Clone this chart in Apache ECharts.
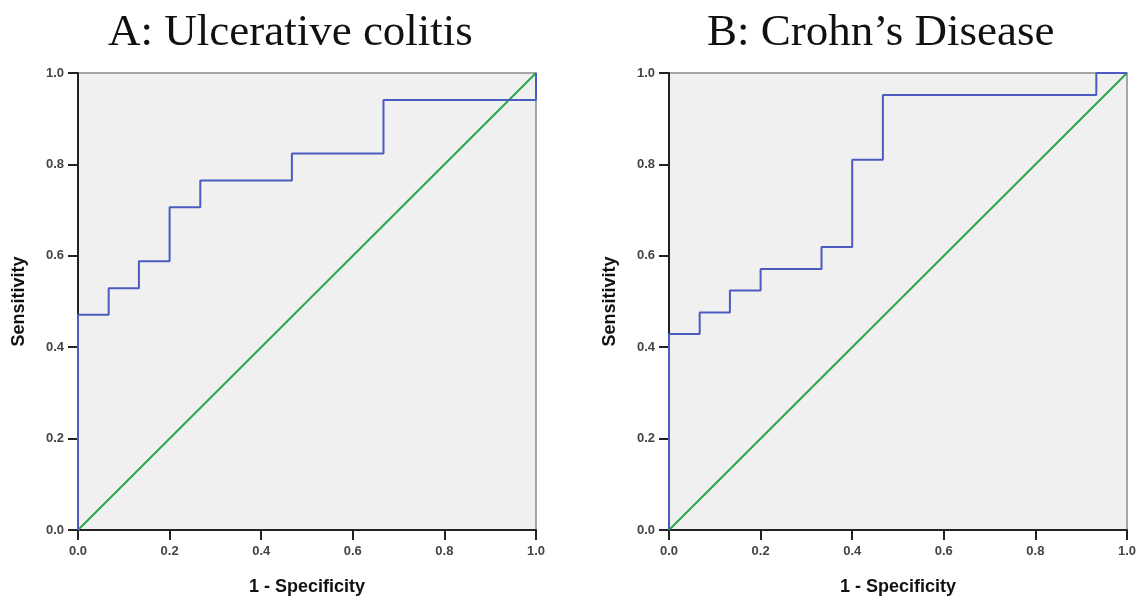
<!DOCTYPE html>
<html>
<head>
  <meta charset="utf-8" />
  <title>ROC curves</title>
  <script src="https://cdn.jsdelivr.net/npm/echarts@6/dist/echarts.min.js"></script>
</head>
<body style="margin:0;background:#fff;">
<div id="main" style="width:1142px;height:601px;"></div>
<script type="text/javascript">
  // ROC vertices (1 - specificity, sensitivity)
  var ucFpr = [0, 0, 0.067, 0.067, 0.133, 0.133, 0.2, 0.2, 0.267, 0.267, 0.467, 0.467, 0.667, 0.667, 1, 1];
  var ucTpr = [0, 0.471, 0.471, 0.529, 0.529, 0.588, 0.588, 0.706, 0.706, 0.765, 0.765, 0.824, 0.824, 0.941, 0.941, 1];
  var cdFpr = [0, 0, 0.067, 0.067, 0.133, 0.133, 0.2, 0.2, 0.333, 0.333, 0.4, 0.4, 0.467, 0.467, 0.933, 0.933, 1];
  var cdTpr = [0, 0.429, 0.429, 0.476, 0.476, 0.524, 0.524, 0.571, 0.571, 0.619, 0.619, 0.81, 0.81, 0.952, 0.952, 1, 1];
  var refLine = [[0, 0], [1, 1]];
  var panelTitles = ['A: Ulcerative colitis', 'B: Crohn\u2019s Disease'];
  var xName = '1 - Specificity';
  var yName = 'Sensitivity';

  function pairs(xs, ys) {
    return xs.map(function (x, i) { return [x, ys[i]]; });
  }

  var myChart = echarts.init(document.getElementById('main'));

  function xAxis(idx) {
    return {
      type: 'value', gridIndex: idx, min: 0, max: 1, interval: 0.2,
      name: xName, nameLocation: 'middle', nameGap: 48,
      nameTextStyle: { fontFamily: 'Liberation Sans', fontWeight: 'bold', fontSize: 18, color: '#111' },
      axisLine: { lineStyle: { color: '#222', width: 2 } },
      axisTick: { inside: false, length: 10, lineStyle: { color: '#222', width: 2 } },
      axisLabel: { fontFamily: 'Liberation Sans', fontWeight: 'bold', fontSize: 13, color: '#444', margin: 15,
        formatter: function (v) { return v.toFixed(1); } },
      splitLine: { show: false }
    };
  }
  function yAxis(idx) {
    return {
      type: 'value', gridIndex: idx, min: 0, max: 1, interval: 0.2,
      name: yName, nameLocation: 'middle', nameGap: 50, nameRotate: 90,
      nameTextStyle: { fontFamily: 'Liberation Sans', fontWeight: 'bold', fontSize: 18, color: '#111' },
      axisLine: { lineStyle: { color: '#222', width: 2 } },
      axisTick: { inside: false, length: 10, lineStyle: { color: '#222', width: 2 } },
      axisLabel: { fontFamily: 'Liberation Sans', fontWeight: 'bold', fontSize: 13, color: '#444', margin: 14,
        formatter: function (v) { return v.toFixed(1); } },
      splitLine: { show: false }
    };
  }

  var option = {
    backgroundColor: '#fff',
    animation: false,
    title: [
      { text: panelTitles[0], left: 103, top: 6,
        textStyle: { fontFamily: 'Liberation Serif', fontWeight: 'normal', fontSize: 45, color: '#111' } },
      { text: panelTitles[1], left: 702, top: 6,
        textStyle: { fontFamily: 'Liberation Serif', fontWeight: 'normal', fontSize: 45, color: '#111' } }
    ],
    grid: [
      { left: 78, top: 73, width: 458, height: 457, show: true, backgroundColor: '#f0f0f0', borderColor: '#8a8a8a', borderWidth: 1.5 },
      { left: 669, top: 73, width: 458, height: 457, show: true, backgroundColor: '#f0f0f0', borderColor: '#8a8a8a', borderWidth: 1.5 }
    ],
    xAxis: [xAxis(0), xAxis(1)],
    yAxis: [yAxis(0), yAxis(1)],
    series: [
      { type: 'line', xAxisIndex: 0, yAxisIndex: 0, data: refLine, symbol: 'none',
        lineStyle: { color: '#2ca64a', width: 2 } },
      { type: 'line', xAxisIndex: 0, yAxisIndex: 0, data: pairs(ucFpr, ucTpr), symbol: 'none',
        lineStyle: { color: '#4a5cbf', width: 2 } },
      { type: 'line', xAxisIndex: 1, yAxisIndex: 1, data: refLine, symbol: 'none',
        lineStyle: { color: '#2ca64a', width: 2 } },
      { type: 'line', xAxisIndex: 1, yAxisIndex: 1, data: pairs(cdFpr, cdTpr), symbol: 'none',
        lineStyle: { color: '#4a5cbf', width: 2 } }
    ]
  };
  myChart.setOption(option);
</script>
</body>
</html>
